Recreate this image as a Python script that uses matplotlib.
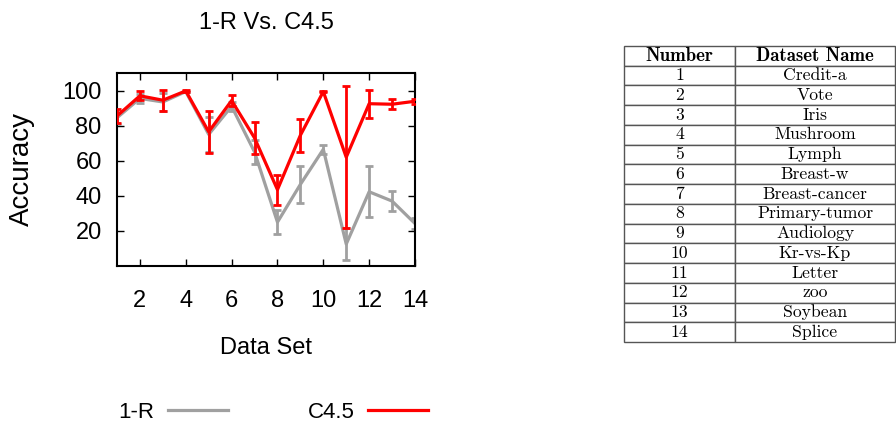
import matplotlib
matplotlib.use('Agg')
import matplotlib.pyplot as plt
from matplotlib.lines import Line2D
import numpy as np

# data
datasets = np.arange(1, 15)
names = ['Credit-a', 'Vote', 'Iris', 'Mushroom', 'Lymph', 'Breast-w', 'Breast-cancer',
         'Primary-tumor', 'Audiology', 'Kr-vs-Kp', 'Letter', 'zoo', 'Soybean', 'Splice']

c45 = [85.5, 97.0, 94.5, 99.8, 76.5, 94.3, 73.0, 43.5, 74.5, 99.4, 62.0, 92.5, 92.2, 93.9]
c45_err = [4.0, 2.5, 6.0, 0.5, 12.0, 3.0, 9.0, 8.5, 9.5, 0.5, 40.5, 8.0, 3.0, 1.5]

oner = [84.5, 95.5, 93.5, 99.4, 75.0, 91.0, 65.0, 25.0, 46.5, 66.5, 12.5, 42.3, 37.0, 24.2]
oner_err = [3.5, 2.5, 5.0, 0.5, 10.0, 2.5, 7.0, 7.0, 10.5, 2.7, 9.0, 14.5, 5.5, 3.0]

gray = '#a0a0a0'
red = '#ff0000'

plt.rcParams['font.family'] = ['Liberation Sans', 'DejaVu Sans']

fig = plt.figure(figsize=(8.96, 4.25), dpi=100)
ax = fig.add_axes([117 / 896, 1 - 266 / 425, 298 / 896, 193 / 425])

ax.errorbar(datasets, oner, yerr=oner_err, color=gray, lw=2.3, elinewidth=2.0,
            capsize=3, capthick=2.0, zorder=2)
ax.errorbar(datasets, c45, yerr=c45_err, color=red, lw=2.3, elinewidth=2.0,
            capsize=3, capthick=2.0, zorder=3)

ax.set_xlim(1, 14)
ax.set_ylim(0, 110)
ax.set_xticks(np.arange(2, 15, 2))
ax.set_yticks([20, 40, 60, 80, 100])
ax.tick_params(direction='in', top=True, right=True, length=5, width=1, labelsize=17)
ax.tick_params(axis='x', pad=17)
ax.tick_params(axis='y', pad=11)
for s in ax.spines.values():
    s.set_linewidth(1.5)

ax.set_title('1-R Vs. C4.5', fontsize=17, pad=32)
ax.set_xlabel('Data Set', fontsize=17, labelpad=18)
ax.set_ylabel('Accuracy', fontsize=20, labelpad=20)

handles = [Line2D([], [], color=gray, lw=2.3), Line2D([], [], color=red, lw=2.3)]
fig.legend(handles, ['1-R', 'C4.5'], loc='center', bbox_to_anchor=(0.305, 0.03), ncol=2,
           frameon=False, markerfirst=False, handlelength=2.7, handletextpad=0.6,
           columnspacing=3.6, fontsize=16)

# dataset lookup table
tax = fig.add_axes([624 / 896, 1 - 342 / 425, 271 / 896, 296 / 425])
tax.axis('off')
rows = [[str(n), nm] for n, nm in zip(datasets, names)]
tbl = tax.table(cellText=rows, colLabels=['Number', 'Dataset Name'], colWidths=[0.41, 0.59],
                cellLoc='center', bbox=[0, 0, 1, 1])
tbl.auto_set_font_size(False)
for (r, c), cell in tbl.get_celld().items():
    cell.set_edgecolor('#555555')
    cell.set_linewidth(1.0)
    if r == 0:
        cell.get_text().set_fontfamily('cmb10')
        cell.get_text().set_fontsize(13.5)
    else:
        cell.get_text().set_fontfamily('cmr10')
        cell.get_text().set_fontsize(12.7)

fig.savefig('out.png', dpi=100)
